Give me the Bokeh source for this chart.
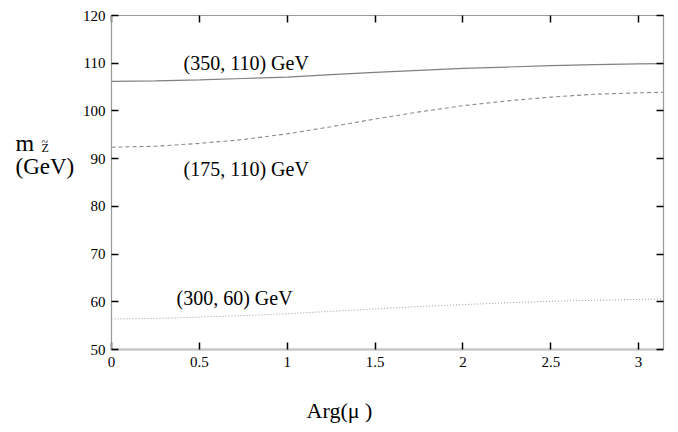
import math
from bokeh.plotting import figure
from bokeh.models import Range1d, LinearAxis, FixedTicker, Label
from bokeh.embed import file_html
from bokeh.resources import INLINE

# ---- data ----
arg_mu = [0.0, 0.25, 0.5, 0.75, 1.0, 1.25, 1.5, 1.75, 2.0, 2.25, 2.5, 2.75, 3.0, 3.14]
m_350_110 = [106.2, 106.3, 106.5, 106.8, 107.1, 107.6, 108.1, 108.5, 108.9, 109.2, 109.5, 109.7, 109.85, 109.9]
m_175_110 = [92.4, 92.6, 93.2, 94.0, 95.2, 96.7, 98.3, 99.8, 101.1, 102.1, 102.9, 103.5, 103.8, 103.9]
m_300_60 = [56.4, 56.5, 56.8, 57.1, 57.5, 58.0, 58.5, 59.0, 59.4, 59.8, 60.1, 60.3, 60.5, 60.6]

x_ticks = [0, 0.5, 1, 1.5, 2, 2.5, 3]
x_tick_labels = ["0", "0.5", "1", "1.5", "2", "2.5", "3"]
y_ticks = [50, 60, 70, 80, 90, 100, 110, 120]
y_tick_labels = ["50", "60", "70", "80", "90", "100", "110", "120"]
series_labels = ["(350, 110) GeV", "(175, 110) GeV", "(300, 60) GeV"]

X_MIN, X_MAX = 0.0, math.pi
Y_MIN, Y_MAX = 50.0, 120.0

# ---- layout (canvas pixels) ----
W, H = 670, 424
BOX_L, BOX_R, BOX_T, BOX_B = 111, 663, 15, 349
FONT = "Liberation Serif"

sx = (BOX_R - BOX_L) / (X_MAX - X_MIN)
sy = (BOX_B - BOX_T) / (Y_MAX - Y_MIN)
x_range = Range1d(X_MIN - BOX_L / sx, X_MAX + (W - BOX_R) / sx)
y_range = Range1d(Y_MIN - (H - BOX_B) / sy, Y_MAX + BOX_T / sy)

def px2x(px):
    return X_MIN + (px - BOX_L) / sx

def px2y(py):
    return Y_MAX - (py - BOX_T) / sy

p = figure(width=W, height=H, output_backend="svg", toolbar_location=None,
           x_range=x_range, y_range=y_range,
           min_border=0, x_axis_type=None, y_axis_type=None)
p.outline_line_color = None
p.background_fill_color = "white"
p.border_fill_color = "white"
p.xgrid.visible = False
p.ygrid.visible = False

def make_axis(ticks, labels, show_labels, line_color, line_width, loc, bounds, standoff):
    ax = LinearAxis(ticker=FixedTicker(ticks=ticks), fixed_location=loc, bounds=bounds)
    ax.major_tick_in = 7
    ax.major_tick_out = 0
    ax.minor_tick_in = 0
    ax.minor_tick_out = 0
    ax.major_tick_line_color = "black"
    ax.major_tick_line_width = 1.5
    ax.axis_line_color = line_color
    ax.axis_line_width = line_width
    ax.major_label_text_font = FONT
    ax.major_label_text_color = "black"
    ax.major_label_text_font_size = "15px"
    if show_labels:
        ax.major_label_overrides = {t: l for t, l in zip(ticks, labels)}
        ax.major_label_standoff = standoff
    else:
        ax.major_label_overrides = {t: "" for t in ticks}
        ax.major_label_standoff = 0
    return ax

p.add_layout(make_axis(x_ticks, x_tick_labels, True, "#c8c8c8", 2.5, Y_MIN, (X_MIN, X_MAX), 7), "below")
p.add_layout(make_axis(y_ticks, y_tick_labels, True, "#999999", 1.2, X_MIN, (Y_MIN, Y_MAX), 6), "left")
p.add_layout(make_axis(x_ticks, x_tick_labels, False, "#999999", 1.2, Y_MAX, (X_MIN, X_MAX), 0), "above")
p.add_layout(make_axis(y_ticks, y_tick_labels, False, "#999999", 1.2, X_MAX, (Y_MIN, Y_MAX), 0), "right")

p.line(arg_mu, m_350_110, line_color="#808080", line_width=1.2)
p.line(arg_mu, m_175_110, line_color="#8a8a8a", line_width=1.1, line_dash="4 3")
p.line(arg_mu, m_300_60, line_color="#9a9a9a", line_width=1.0, line_dash="1 2")

def text(px, py, txt, size, align="left"):
    p.add_layout(Label(x=px2x(px), y=px2y(py), text=txt, text_font=FONT,
                       text_font_size=size, text_align=align,
                       text_baseline="middle", text_color="black"))

# curve labels
text(183, 62, series_labels[0], "20px")
text(183, 168, series_labels[1], "20px")
text(176, 297, series_labels[2], "20px")

# axis titles
text(15, 142, "m", "24px")
text(41, 141, "~", "12px")
text(41, 147.5, "Z", "12px")
text(15, 166, "(GeV)", "23px")
text(339, 410, "Arg(\u03bc )", "22px", align="center")

open("out.html", "w").write(file_html(p, INLINE))
